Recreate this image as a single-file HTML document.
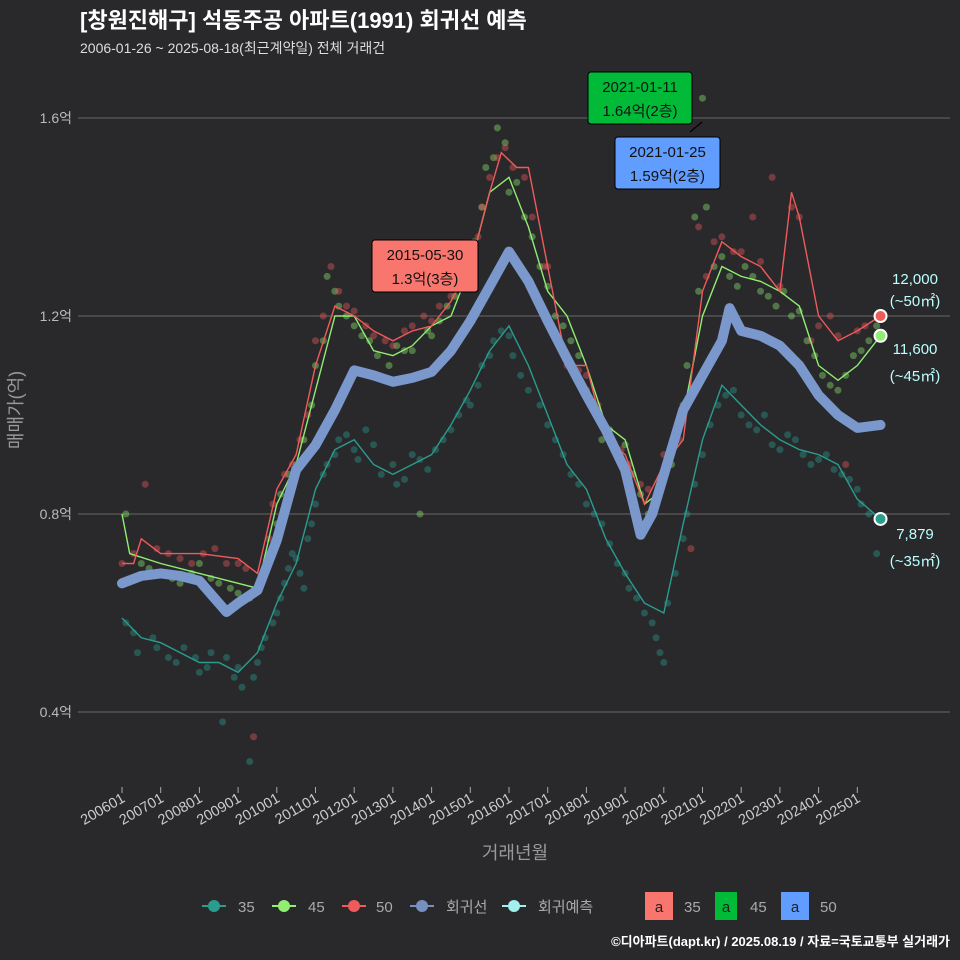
<!DOCTYPE html>
<html><head><meta charset="utf-8"><style>
body{margin:0;background:#29292c;}
svg{display:block;font-family:"Liberation Sans","Noto Sans CJK KR",sans-serif;}
</style></head><body>
<svg id="c" width="960" height="960" viewBox="0 0 960 960">
<rect width="960" height="960" fill="#29292c"/>
<text x="80" y="28" font-size="22" font-weight="bold" fill="#fff">[창원진해구] 석동주공 아파트(1991) 회귀선 예측</text>
<text x="80" y="53" font-size="14" fill="#ddd">2006-01-26 ~ 2025-08-18(최근계약일) 전체 거래건</text>
<g id="grid"></g>
<g id="pts"></g>
<g id="lines"></g>
<g id="xax"></g>
<text x="515" y="859" font-size="18" fill="#999" text-anchor="middle">거래년월</text>
<text transform="translate(22,410) rotate(-90)" font-size="18" fill="#999" text-anchor="middle">매매가(억)</text>
<g id="ann"></g>
<g font-size="15" fill="#aaa">
 <g><line x1="202" x2="226" y1="906" y2="906" stroke="#2a9d8f" stroke-width="2"/><circle cx="214" cy="906" r="6" fill="#2a9d8f"/><text x="238" y="912">35</text></g>
 <g><line x1="272" x2="296" y1="906" y2="906" stroke="#90ee70" stroke-width="2"/><circle cx="284" cy="906" r="6" fill="#90ee70"/><text x="308" y="912">45</text></g>
 <g><line x1="342" x2="366" y1="906" y2="906" stroke="#f05a5a" stroke-width="2"/><circle cx="354" cy="906" r="6" fill="#f05a5a"/><text x="376" y="912">50</text></g>
 <g><line x1="410" x2="434" y1="906" y2="906" stroke="#7890c0" stroke-width="2"/><circle cx="422" cy="906" r="6" fill="#7890c0"/><text x="446" y="912">회귀선</text></g>
 <g><line x1="502" x2="526" y1="906" y2="906" stroke="#a0f0f0" stroke-width="2"/><circle cx="514" cy="906" r="6" fill="#a0f0f0"/><text x="538" y="912">회귀예측</text></g>
 <g><rect x="645" y="892" width="28" height="28" fill="#f8766d"/><text x="659" y="912" text-anchor="middle" fill="#222">a</text><text x="684" y="912">35</text></g>
 <g><rect x="715" y="892" width="22" height="28" fill="#00ba38"/><text x="726" y="912" text-anchor="middle" fill="#222">a</text><text x="750" y="912">45</text></g>
 <g><rect x="781" y="892" width="28" height="28" fill="#619cff"/><text x="795" y="912" text-anchor="middle" fill="#222">a</text><text x="820" y="912">50</text></g>
</g>
<text x="950" y="946" font-size="13" font-weight="bold" fill="#fff" text-anchor="end">©디아파트(dapt.kr) / 2025.08.19 / 자료=국토교통부 실거래가</text>
</svg>
<script>
const yTicks=[0.4,0.8,1.2,1.6];
const yTickLabels=["0.4억","0.8억","1.2억","1.6억"];
const xTickYears=[2006,2007,2008,2009,2010,2011,2012,2013,2014,2015,2016,2017,2018,2019,2020,2021,2022,2023,2024,2025];
const xTickLabels=["200601","200701","200801","200901","201001","201101","201201","201301","201401","201501","201601","201701","201801","201901","202001","202101","202201","202301","202401","202501"];
const regT=[2006.0,2006.5,2007.0,2007.5,2008.0,2008.5,2008.7,2009.0,2009.5,2010.0,2010.5,2011.0,2011.5,2012.0,2012.5,2013.0,2013.5,2014.0,2014.5,2015.0,2015.5,2016.0,2016.5,2017.0,2017.5,2018.0,2018.5,2019.0,2019.4,2019.7,2020.0,2020.5,2021.0,2021.5,2021.7,2022.0,2022.5,2023.0,2023.5,2024.0,2024.5,2025.0,2025.6];
const regV=[0.66,0.675,0.68,0.675,0.665,0.62,0.602,0.62,0.646,0.747,0.889,0.939,1.01,1.09,1.08,1.067,1.075,1.087,1.13,1.19,1.26,1.33,1.27,1.19,1.114,1.04,0.97,0.889,0.758,0.80,0.879,1.01,1.08,1.15,1.216,1.17,1.16,1.14,1.10,1.04,1.0,0.974,0.98];
const s50T=[2006.0,2006.3,2006.5,2007.0,2008.0,2009.0,2009.5,2010.0,2010.5,2011.0,2011.5,2012.0,2012.5,2013.0,2013.5,2014.0,2014.5,2015.0,2015.5,2015.8,2016.2,2016.5,2017.0,2017.5,2018.0,2018.5,2019.0,2019.5,2020.0,2020.5,2021.0,2021.5,2022.0,2022.5,2023.0,2023.3,2023.5,2024.0,2024.5,2025.0,2025.6];
const s50V=[0.70,0.70,0.75,0.72,0.72,0.71,0.68,0.85,0.92,1.10,1.22,1.20,1.17,1.15,1.17,1.18,1.23,1.30,1.45,1.53,1.50,1.50,1.30,1.10,1.10,0.95,0.92,0.82,0.90,0.95,1.25,1.35,1.32,1.30,1.25,1.45,1.40,1.20,1.15,1.17,1.20];
const s45T=[2006.0,2006.2,2007.0,2008.0,2009.0,2009.5,2010.0,2010.5,2011.0,2011.5,2012.0,2012.5,2013.0,2013.5,2014.0,2014.5,2015.0,2015.5,2016.0,2016.5,2017.0,2017.5,2018.0,2018.5,2019.0,2019.5,2020.0,2020.5,2021.0,2021.5,2022.0,2022.5,2023.0,2023.5,2024.0,2024.5,2025.0,2025.6];
const s45V=[0.80,0.72,0.70,0.68,0.66,0.65,0.82,0.90,1.05,1.20,1.20,1.13,1.12,1.14,1.18,1.20,1.30,1.45,1.48,1.38,1.25,1.20,1.10,0.98,0.95,0.82,0.85,1.00,1.20,1.30,1.28,1.27,1.25,1.22,1.10,1.07,1.10,1.16];
const s35T=[2006.0,2006.5,2007.0,2007.5,2008.0,2008.5,2009.0,2009.5,2010.0,2010.5,2011.0,2011.5,2012.0,2012.5,2013.0,2013.5,2014.0,2014.5,2015.0,2015.5,2016.0,2016.5,2017.0,2017.5,2018.0,2018.5,2019.0,2019.5,2020.0,2020.5,2021.0,2021.5,2022.0,2022.5,2023.0,2023.5,2024.0,2024.5,2025.0,2025.6];
const s35V=[0.59,0.55,0.54,0.52,0.50,0.50,0.48,0.52,0.62,0.70,0.85,0.93,0.95,0.90,0.88,0.90,0.92,0.98,1.05,1.13,1.18,1.10,1.00,0.90,0.85,0.75,0.68,0.62,0.60,0.78,0.95,1.06,1.02,0.98,0.95,0.93,0.92,0.90,0.83,0.79];
const p35=[[2006.1,0.58],[2006.4,0.52],[2006.8,0.55],[2007.2,0.51],[2007.6,0.53],[2008.0,0.48],[2008.3,0.52],[2008.6,0.38],[2008.9,0.47],[2009.1,0.45],[2009.3,0.30],[2009.5,0.50],[2009.7,0.55],[2010.0,0.60],[2010.2,0.66],[2010.4,0.72],[2010.6,0.68],[2010.8,0.75],[2011.0,0.82],[2011.3,0.90],[2011.6,0.95],[2012.0,0.93],[2012.3,0.97],[2012.7,0.88],[2013.1,0.86],[2013.5,0.92],[2013.9,0.89],[2014.3,0.95],[2014.7,1.00],[2015.0,1.02],[2015.3,1.10],[2015.6,1.15],[2016.0,1.16],[2016.3,1.08],[2016.8,1.02],[2017.2,0.95],[2017.6,0.88],[2018.0,0.82],[2018.4,0.78],[2018.8,0.70],[2019.1,0.65],[2019.5,0.60],[2019.8,0.55],[2020.0,0.50],[2020.3,0.68],[2020.6,0.80],[2021.0,0.92],[2021.4,1.02],[2021.8,1.05],[2022.2,0.98],[2022.6,1.00],[2023.0,0.93],[2023.4,0.95],[2023.8,0.90],[2024.2,0.92],[2024.6,0.88],[2025.0,0.85],[2025.3,0.80],
[2006.3,0.56],[2006.9,0.53],[2007.4,0.50],[2007.9,0.51],[2008.2,0.49],[2008.7,0.51],[2009.0,0.49],[2009.4,0.47],[2009.6,0.53],[2009.9,0.58],[2010.1,0.63],[2010.3,0.69],[2010.5,0.71],[2010.7,0.65],[2010.9,0.78],[2011.2,0.88],[2011.5,0.92],[2011.8,0.96],[2012.1,0.91],[2012.5,0.94],[2013.0,0.90],[2013.3,0.87],[2013.7,0.91],[2014.1,0.93],[2014.5,0.97],[2014.9,1.03],[2015.2,1.06],[2015.5,1.12],[2015.8,1.17],[2016.1,1.12],[2016.5,1.05],[2017.0,0.98],[2017.4,0.92],[2017.8,0.86],[2018.2,0.80],[2018.6,0.74],[2019.0,0.68],[2019.3,0.63],[2019.7,0.58],[2019.9,0.52],[2020.1,0.62],[2020.5,0.75],[2020.8,0.86],[2021.2,0.98],[2021.6,1.04],[2022.0,1.00],[2022.4,0.97],[2022.8,0.94],[2023.2,0.96],[2023.6,0.92],[2024.0,0.91],[2024.4,0.89],[2024.8,0.87],[2025.1,0.82],[2025.5,0.72]];
const p45=[[2006.1,0.80],[2006.5,0.70],[2007.0,0.68],[2007.5,0.66],[2008.0,0.70],[2008.5,0.66],[2009.0,0.64],[2009.6,0.66],[2010.0,0.78],[2010.3,0.88],[2010.7,0.95],[2011.0,1.10],[2011.3,1.28],[2011.6,1.22],[2012.0,1.18],[2012.4,1.15],[2012.9,1.10],[2013.3,1.13],[2013.7,0.80],[2014.0,1.16],[2014.4,1.22],[2014.8,1.26],[2015.1,1.35],[2015.4,1.50],[2015.7,1.58],[2016.0,1.45],[2016.4,1.40],[2016.8,1.30],[2017.2,1.20],[2017.6,1.15],[2018.0,1.05],[2018.4,0.95],[2018.8,0.92],[2019.2,0.88],[2019.6,0.80],[2020.0,0.88],[2020.3,0.95],[2020.6,1.10],[2020.8,1.40],[2021.0,1.64],[2021.3,1.30],[2021.7,1.28],[2022.1,1.30],[2022.5,1.25],[2022.9,1.22],[2023.3,1.20],[2023.7,1.15],[2024.1,1.08],[2024.5,1.05],[2024.9,1.12],[2025.3,1.15],
[2006.7,0.69],[2007.3,0.67],[2007.8,0.68],[2008.3,0.67],[2008.8,0.65],[2009.3,0.63],[2009.8,0.72],[2010.1,0.84],[2010.5,0.90],[2010.9,1.02],[2011.2,1.15],[2011.5,1.25],[2011.8,1.20],[2012.2,1.16],[2012.6,1.12],[2013.1,1.14],[2013.5,1.13],[2013.9,1.17],[2014.2,1.19],[2014.6,1.24],[2015.0,1.30],[2015.3,1.42],[2015.6,1.52],[2015.9,1.55],[2016.2,1.47],[2016.6,1.36],[2017.0,1.26],[2017.4,1.18],[2017.8,1.12],[2018.2,1.02],[2018.6,0.97],[2019.0,0.94],[2019.4,0.84],[2019.8,0.83],[2020.2,0.90],[2020.5,1.02],[2020.9,1.25],[2021.1,1.42],[2021.5,1.32],[2021.9,1.26],[2022.3,1.28],[2022.7,1.24],[2023.1,1.25],[2023.5,1.21],[2023.9,1.12],[2024.3,1.06],[2024.7,1.08],[2025.1,1.13],[2025.5,1.18]];
const p50=[[2006.0,0.70],[2006.6,0.86],[2007.2,0.72],[2007.8,0.70],[2008.4,0.73],[2009.0,0.70],[2009.4,0.35],[2009.8,0.75],[2010.2,0.88],[2010.6,0.95],[2011.0,1.15],[2011.4,1.30],[2011.8,1.22],[2012.3,1.18],[2012.8,1.15],[2013.3,1.17],[2013.8,1.20],[2014.2,1.22],[2014.7,1.28],[2015.0,1.30],[2015.3,1.42],[2015.7,1.52],[2016.1,1.50],[2016.6,1.40],[2017.0,1.30],[2017.5,1.10],[2018.0,1.08],[2018.6,0.95],[2019.1,0.90],[2019.6,0.85],[2020.0,0.92],[2020.4,0.95],[2020.7,0.73],[2020.9,1.38],[2021.3,1.35],[2021.8,1.33],[2022.3,1.40],[2022.8,1.48],[2023.3,1.42],[2023.8,1.15],[2024.3,1.20],[2024.7,0.90],[2025.2,1.18],
[2006.3,0.72],[2006.9,0.73],[2007.5,0.71],[2008.1,0.72],[2008.7,0.70],[2009.2,0.69],[2009.9,0.82],[2010.4,0.90],[2010.8,1.00],[2011.2,1.20],[2011.6,1.25],[2012.0,1.21],[2012.5,1.16],[2013.0,1.14],[2013.5,1.18],[2014.0,1.19],[2014.5,1.24],[2015.2,1.36],[2015.5,1.48],[2015.9,1.54],[2016.4,1.48],[2016.9,1.30],[2017.8,1.09],[2018.3,1.02],[2018.9,0.93],[2019.4,0.86],[2020.2,0.93],[2021.1,1.28],[2021.5,1.36],[2022.0,1.33],[2022.5,1.31],[2023.0,1.26],[2023.5,1.40],[2024.0,1.18],[2024.5,1.16],[2025.0,1.17]];
const X=t=>122+(t-2006)*38.7, Y=v=>712-(v-0.4)*495;
const NS="http://www.w3.org/2000/svg";
function mk(tag,attrs,parent){const e=document.createElementNS(NS,tag);for(const k in attrs)e.setAttribute(k,attrs[k]);parent.appendChild(e);return e;}
const grid=document.getElementById('grid');
yTicks.forEach((v,i)=>{
 const l=mk('line',{x1:78,x2:950,y1:Y(v),y2:Y(v),stroke:'#666','stroke-width':1},grid);
 
 
 const t=mk('text',{x:72,y:Y(v)+5,'font-size':14,fill:'#bbb','text-anchor':'end'},grid);
 t.textContent=yTickLabels[i];
 
 
});
const xax=document.getElementById('xax');
xTickYears.forEach((yr,i)=>{
 const x=X(yr);
 const l=mk('line',{x1:x,x2:x,y1:787,y2:793,stroke:'#aaa'},xax);
 
 
 const t=mk('text',{transform:`translate(${x+4},${801}) rotate(-30)`,'font-size':14.5,fill:'#ccc','text-anchor':'end'},xax);
 t.textContent=xTickLabels[i];
 
 
});
const pts=document.getElementById('pts');
[[p35,'#2a9d8f'],[p45,'#90ee70'],[p50,'#f05a5a']].forEach(([arr,c])=>{
 arr.forEach(p=>{
  const e=mk('circle',{cx:X(p[0]),cy:Y(p[1]),r:3.5,fill:c,'fill-opacity':0.4},pts);
  
  
 });
});
const lines=document.getElementById('lines');
function path(T,V){return T.map((t,i)=>(i?'L':'M')+X(t).toFixed(1)+','+Y(V[i]).toFixed(1)).join('');}
[[s35T,s35V,'#2a9d8f','line-35'],[s45T,s45V,'#90ee70','line-45'],[s50T,s50V,'#f05a5a','line-50']].forEach(([T,V,c,n])=>{
 const e=mk('path',{d:path(T,V),fill:'none',stroke:c,'stroke-width':1.4},lines);
 
 
});
const rl=mk('path',{d:path(regT,regV),fill:'none',stroke:'#7a98cc','stroke-width':10,'stroke-linejoin':'round','stroke-linecap':'round'},lines);


const endT=2025.6;
const endV=[1.2,1.16,0.79];
const endC=['#f05a5a','#90ee70','#2a9d8f'];
const endL=[["12,000","(~50㎡)"],["11,600","(~45㎡)"],["7,879","(~35㎡)"]];
const endDy=[[-32,-10],[18,45],[20,47]];
endV.forEach((v,i)=>{
 const e=mk('circle',{cx:X(endT),cy:Y(v),r:6,fill:endC[i],stroke:'#fff','stroke-width':2},lines);
 
 
 endL[i].forEach((s,j)=>{
  const t=mk('text',{x:915,y:Y(v)+endDy[i][j],'font-size':15,fill:'#bff','text-anchor':'middle'},lines);
  t.textContent=s;
  
  
 });
});
const ann=document.getElementById('ann');
const annLines=[["2015-05-30","1.3억(3층)"],["2021-01-11","1.64억(2층)"],["2021-01-25","1.59억(2층)"]];
const annBox=[[372,240,106,52,'#f8766d'],[588,72,104,52,'#00ba38'],[615,137,105,52,'#619cff']];
mk('line',{x1:690,y1:132,x2:702,y2:122,stroke:'#000','stroke-width':1.2},ann);
annLines.forEach((L,i)=>{
 const b=annBox[i];
 const r=mk('rect',{x:b[0],y:b[1],width:b[2],height:b[3],rx:3,fill:b[4],stroke:'#000'},ann);
 
 
 L.forEach((s,j)=>{
  const t=mk('text',{x:b[0]+b[2]/2,y:b[1]+20+j*24,'font-size':15,fill:'#111','text-anchor':'middle'},ann);
  t.textContent=s;
  
  
 });
});
</script>
</body></html>
